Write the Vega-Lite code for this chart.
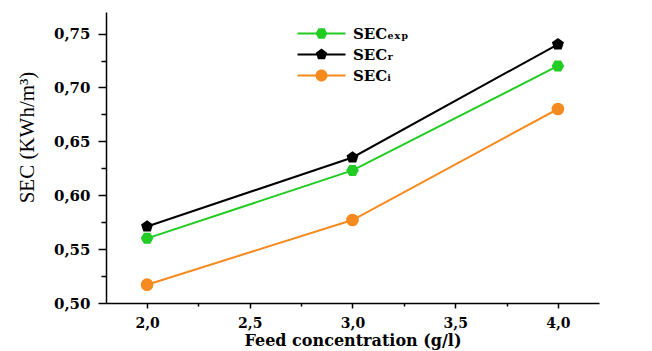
{
  "$schema": "https://vega.github.io/schema/vega-lite/v6.json",
  "width": 493,
  "height": 291,
  "autosize": {"type": "none"},
  "padding": {"left": 106, "top": 12, "right": 53, "bottom": 48},
  "background": "white",
  "config": {
    "view": {"stroke": null},
    "axis": {
      "grid": false,
      "domainColor": "black",
      "tickColor": "black",
      "labelColor": "black",
      "titleColor": "black",
      "domainWidth": 1.5,
      "tickWidth": 1.5,
      "labelFont": "DejaVu Serif",
      "labelFontWeight": "bold",
      "labelFontSize": 14
    },
    "legend": {
      "orient": "none", "legendX": 208, "legendY": 14, "title": null, "padding": 0,
      "symbolSize": 144, "symbolOpacity": 1, "symbolStrokeWidth": 0, "labelOffset": 24, "rowPadding": 5,
      "labelFont": "DejaVu Serif", "labelFontWeight": "bold", "labelFontSize": 15, "labelColor": "black"
    }
  },
  "data": {
    "values": [
      {"c": 2.0, "sec": 0.560, "s": "exp"},
      {"c": 3.0, "sec": 0.623, "s": "exp"},
      {"c": 4.0, "sec": 0.720, "s": "exp"},
      {"c": 2.0, "sec": 0.571, "s": "r"},
      {"c": 3.0, "sec": 0.635, "s": "r"},
      {"c": 4.0, "sec": 0.740, "s": "r"},
      {"c": 2.0, "sec": 0.517, "s": "i"},
      {"c": 3.0, "sec": 0.577, "s": "i"},
      {"c": 4.0, "sec": 0.680, "s": "i"}
    ]
  },
  "layer": [
    {
      "mark": {"type": "line", "strokeWidth": 2},
      "encoding": {
        "x": {
          "field": "c", "type": "quantitative",
          "scale": {"domain": [1.8, 4.2], "nice": false, "zero": false},
          "axis": {
            "values": [2, 2.5, 3, 3.5, 4],
            "labelExpr": "replace(format(datum.value, '.1f'), '.', ',')",
            "tickSize": 5, "labelPadding": 8,
            "title": "Feed concentration (g/l)",
            "titleFont": "DejaVu Serif", "titleFontSize": 16, "titleFontWeight": "bold",
            "titlePadding": 2
          }
        },
        "y": {
          "field": "sec", "type": "quantitative",
          "scale": {"domain": [0.5, 0.77], "nice": false, "zero": false},
          "axis": {
            "values": [0.5, 0.55, 0.6, 0.65, 0.7, 0.75],
            "labelExpr": "replace(format(datum.value, '.2f'), '.', ',')",
            "labelFontSize": 15,
            "tickSize": 8, "labelPadding": 8,
            "title": "SEC (KWh/m³)",
            "titleFont": "Liberation Serif", "titleFontSize": 21, "titleFontWeight": "normal",
            "titlePadding": 16, "titleY": 125
          }
        },
        "color": {
          "field": "s", "type": "nominal",
          "scale": {"domain": ["exp", "r", "i"], "range": ["#22cc22", "#000000", "#f58a1f"]},
          "legend": null
        }
      }
    },
    {
      "mark": {"type": "point", "filled": true, "opacity": 1, "size": 160},
      "encoding": {
        "x": {
          "field": "c", "type": "quantitative",
          "axis": {"values": [2.25, 2.75, 3.25, 3.75], "labels": false, "tickSize": 3, "domain": false, "title": null, "orient": "bottom"}
        },
        "y": {
          "field": "sec", "type": "quantitative",
          "axis": {"values": [0.525, 0.575, 0.625, 0.675, 0.725], "labels": false, "tickSize": 5, "domain": false, "title": null, "orient": "left"}
        },
        "color": {
          "field": "s", "type": "nominal",
          "scale": {"domain": ["exp", "r", "i"], "range": ["#22cc22", "#000000", "#f58a1f"]},
          "legend": null
        },
        "shape": {
          "field": "s", "type": "nominal",
          "scale": {"domain": ["exp", "r", "i"], "range": ["M-1,0L-0.5,-0.87L0.5,-0.87L1,0L0.5,0.87L-0.5,0.87Z", "M0,-1L0.95,-0.31L0.59,0.81L-0.59,0.81L-0.95,-0.31Z", "circle"]},
          "legend": null
        }
      }
    },
    {
      "mark": {"type": "point", "filled": true, "opacity": 0, "size": 10},
      "encoding": {
        "x": {"field": "c", "type": "quantitative", "axis": null},
        "y": {"field": "sec", "type": "quantitative", "axis": null},
        "color": {
          "field": "s", "type": "nominal",
          "scale": {"domain": ["exp", "r", "i"], "range": ["#22cc22", "#000000", "#f58a1f"]},
          "legend": {"labelExpr": "datum.value === 'exp' ? 'SECₑₓₚ' : datum.value === 'r' ? 'SECᵣ' : 'SECᵢ'"}
        },
        "shape": {
          "field": "s", "type": "nominal",
          "scale": {"domain": ["exp", "r", "i"], "range": [
            "M-4,-0.17H4V0.17H-4ZM-1,0L-0.5,-0.87L0.5,-0.87L1,0L0.5,0.87L-0.5,0.87Z",
            "M-4,-0.17H4V0.17H-4ZM0,-1L0.95,-0.31L0.59,0.81L-0.59,0.81L-0.95,-0.31Z",
            "M-4,-0.17H4V0.17H-4ZM1,0A1,1,0,1,1,-1,0A1,1,0,1,1,1,0Z"
          ]},
          "legend": {"labelExpr": "datum.value === 'exp' ? 'SECₑₓₚ' : datum.value === 'r' ? 'SECᵣ' : 'SECᵢ'"}
        }
      }
    }
  ],
  "resolve": {"axis": {"x": "independent", "y": "independent"}, "scale": {"shape": "independent", "color": "independent"}}
}
